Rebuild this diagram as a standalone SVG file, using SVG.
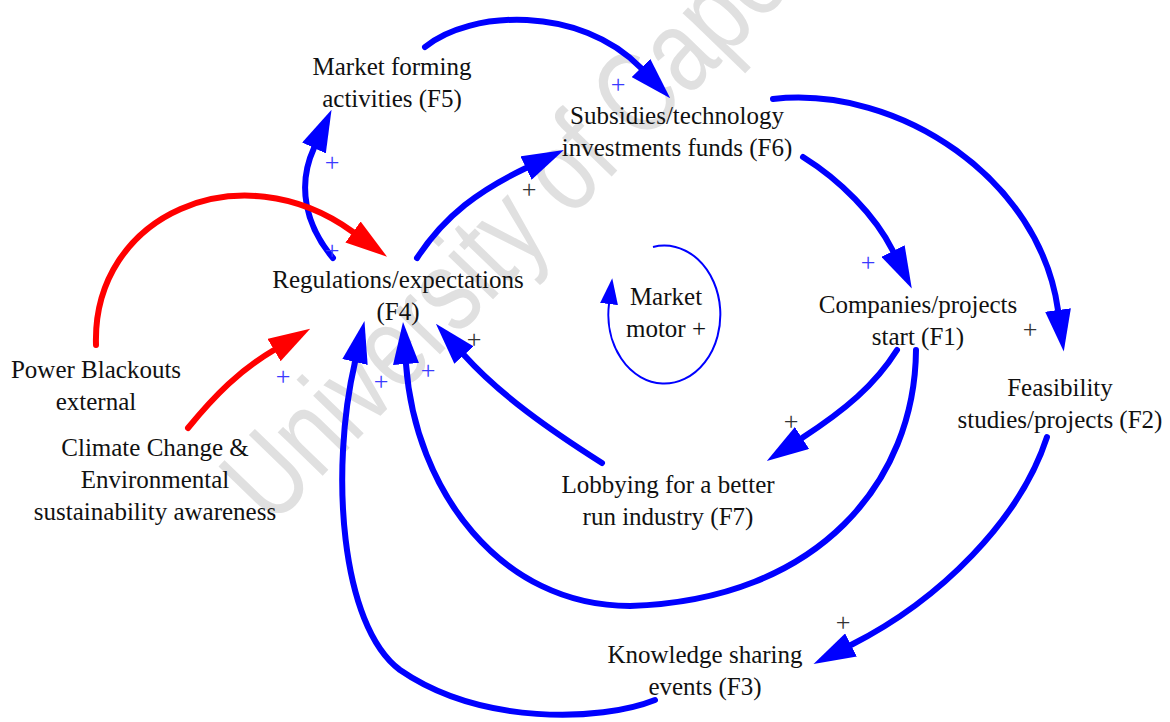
<svg xmlns="http://www.w3.org/2000/svg" width="1170" height="722" viewBox="0 0 1170 722">
<style>
.t{font-family:"Liberation Serif","Times New Roman",Times,serif;font-size:25px;fill:#111;text-anchor:middle}
.wm{font-family:"Liberation Sans",Arial,sans-serif;font-size:118px;fill:#e0e0e0}
.b{fill:none;stroke:#0000ff;stroke-width:6;stroke-linecap:round}
.r{fill:none;stroke:#ff0000;stroke-width:6;stroke-linecap:round}
.thin{fill:none;stroke:#0000ff;stroke-width:2}
.pb{font-family:"Liberation Serif","Times New Roman",serif;font-size:26px;fill:#3a3aff;text-anchor:middle}
.pk{font-family:"Liberation Serif","Times New Roman",serif;font-size:26px;fill:#333;text-anchor:middle}
</style>
<defs>
<marker id="ab" markerUnits="userSpaceOnUse" markerWidth="42" markerHeight="26" refX="0" refY="13" orient="auto" viewBox="0 0 42 26"><path d="M0,0 L42,13 L0,26 z" fill="#0000ff"/></marker>
<marker id="ar" markerUnits="userSpaceOnUse" markerWidth="42" markerHeight="26" refX="0" refY="13" orient="auto" viewBox="0 0 42 26"><path d="M0,0 L42,13 L0,26 z" fill="#ff0000"/></marker>
<marker id="as" markerUnits="userSpaceOnUse" markerWidth="26" markerHeight="18" refX="0" refY="9" orient="auto" viewBox="0 0 26 18"><path d="M0,0 L26,9 L0,18 z" fill="#0000ff"/></marker>
</defs>
<rect width="1170" height="722" fill="#fff"/>
<text class="wm" transform="translate(272,528) rotate(-46) scale(0.78,1)">University of Cape Town</text>
<g id="connectors">
<path class="b" d="M425,47 C470,10 580,5 641,68" marker-end="url(#ab)"/>
<path class="b" d="M333,258 C305,225 297,185 314,148" marker-end="url(#ab)"/>
<path class="r" d="M96,345 C92,215 240,150 353,232" marker-end="url(#ar)"/>
<path class="r" d="M188,428 C215,395 240,370 274,350" marker-end="url(#ar)"/>
<path class="b" d="M417,258 C445,215 480,190 526,168" marker-end="url(#ab)"/>
<path class="b" d="M803,157 C840,180 875,215 893,251" marker-end="url(#ab)"/>
<path class="b" d="M773,99 C900,85 1040,180 1058,310" marker-end="url(#ab)"/>
<path class="b" d="M897,350 C875,385 845,410 802,438" marker-end="url(#ab)"/>
<path class="b" d="M916,350 C915,480 820,600 630,606 C500,606 415,490 406,364" marker-end="url(#ab)"/>
<path class="b" d="M602,463 C550,430 500,395 464,355" marker-end="url(#ab)"/>
<path class="b" d="M655,700 C600,722 480,725 400,670 C340,625 330,470 355,362" marker-end="url(#ab)"/>
<path class="b" d="M1047,437 C1020,520 940,600 851,645" marker-end="url(#ab)"/>
<path class="thin" d="M653,247 A56,69 0 1 1 609,304" marker-end="url(#as)"/>
<g id="polarities">
<text class="pb" x="618" y="93">+</text>
<text class="pb" x="332" y="171">+</text>
<text class="pb" x="332" y="259">+</text>
<text class="pb" x="283" y="385">+</text>
<text class="pb" x="381" y="390">+</text>
<text class="pb" x="428" y="379">+</text>
<text class="pb" x="868" y="271">+</text>
<text class="pk" x="529" y="198">+</text>
<text class="pk" x="474" y="348">+</text>
<text class="pk" x="791" y="430">+</text>
<text class="pk" x="1030" y="338">+</text>
<text class="pk" x="843" y="631">+</text>
</g>
</g>
<g id="F5"><text class="t" x="392" y="75">Market forming</text><text class="t" x="392" y="107">activities (F5)</text></g>
<g id="F6"><text class="t" x="677" y="124">Subsidies/technology</text><text class="t" x="677" y="156">investments funds (F6)</text></g>
<g id="F4"><text class="t" x="398" y="288">Regulations/expectations</text><text class="t" x="398" y="320">(F4)</text></g>
<g id="motor"><text class="t" x="666" y="305">Market</text><text class="t" x="666" y="337">motor +</text></g>
<g id="F1"><text class="t" x="918" y="313">Companies/projects</text><text class="t" x="918" y="345">start (F1)</text></g>
<g id="F2"><text class="t" x="1060" y="396">Feasibility</text><text class="t" x="1060" y="428">studies/projects (F2)</text></g>
<g id="blackouts"><text class="t" x="96" y="378">Power Blackouts</text><text class="t" x="96" y="410">external</text></g>
<g id="climate"><text class="t" x="155" y="456">Climate Change &amp;</text><text class="t" x="155" y="488">Environmental</text><text class="t" x="155" y="520">sustainability awareness</text></g>
<g id="F7"><text class="t" x="668" y="493">Lobbying for a better</text><text class="t" x="668" y="525">run industry (F7)</text></g>
<g id="F3"><text class="t" x="705" y="663">Knowledge sharing</text><text class="t" x="705" y="695">events (F3)</text></g>
</svg>
